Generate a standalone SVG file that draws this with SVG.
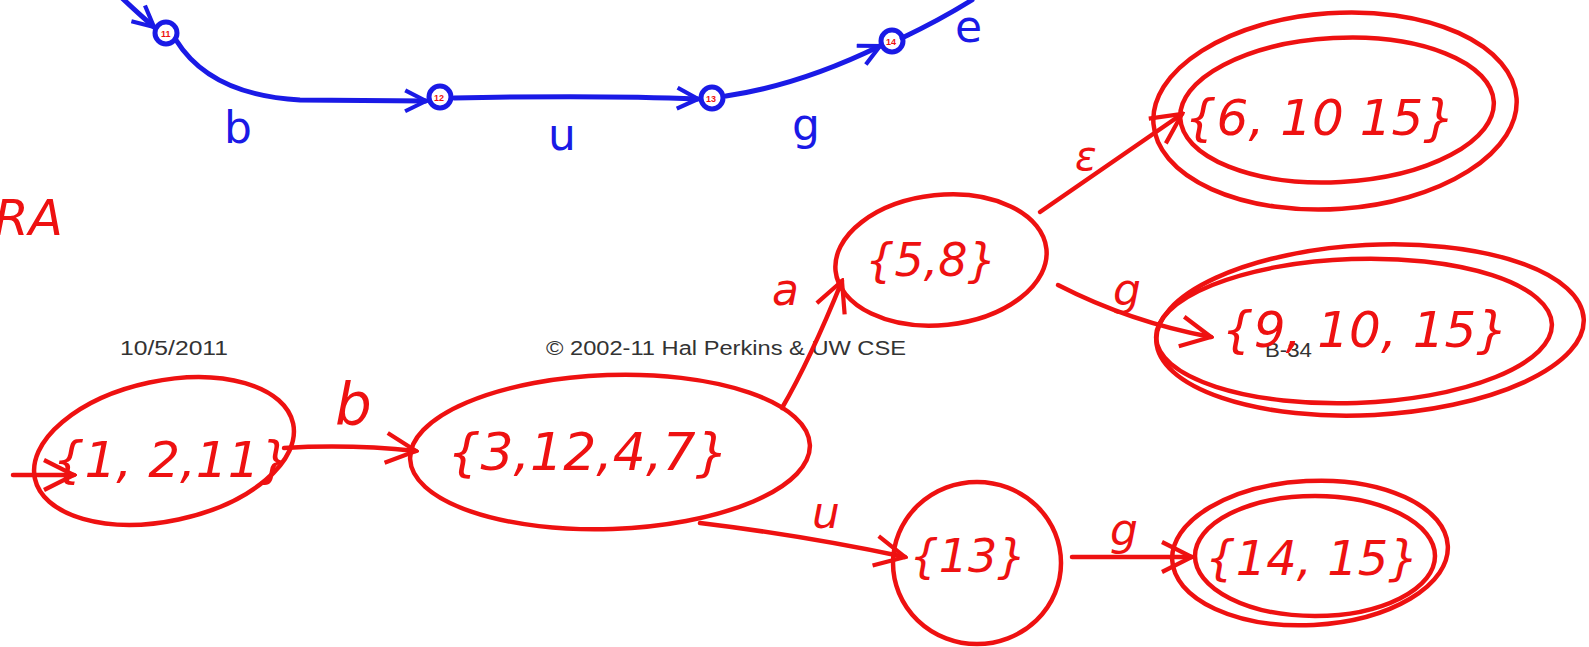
<svg xmlns="http://www.w3.org/2000/svg" width="1589" height="647" viewBox="0 0 1589 647">
<style>
.bl{fill:none;stroke:#1a1ae6;stroke-width:5;stroke-linecap:round;stroke-linejoin:round}
.rd{fill:none;stroke:#ee1111;stroke-width:4.5;stroke-linecap:round;stroke-linejoin:round}
.rt{fill:#ee1111;font-family:"DejaVu Sans",sans-serif;font-style:italic}
.bt{fill:#1a1ae6;font-family:"DejaVu Sans",sans-serif}
.sm{fill:#ee1111;font-family:"Liberation Sans",sans-serif;font-size:9px;font-weight:bold}
.ft{fill:#333;font-family:"Liberation Sans",sans-serif;font-size:20px}
</style>
<defs>
<marker id="ab" viewBox="0 0 12 12" refX="11" refY="6" markerWidth="5" markerHeight="5" orient="auto" markerUnits="strokeWidth">
<path d="M1,1 L11,6 L1,11" fill="none" stroke="#1a1ae6" stroke-width="2"/>
</marker>
<marker id="ar" viewBox="0 0 12 12" refX="11" refY="6" markerWidth="8" markerHeight="8" orient="auto" markerUnits="strokeWidth">
<path d="M1,1 L11,6 L1,11" fill="none" stroke="#ee1111" stroke-width="1.4"/>
</marker>
</defs>
<rect width="1589" height="647" fill="#fff"/>

<g id="footer">
<text class="ft" x="120" y="355" textLength="108" lengthAdjust="spacingAndGlyphs">10/5/2011</text>
<text class="ft" x="546" y="355" textLength="360" lengthAdjust="spacingAndGlyphs">© 2002-11 Hal Perkins &amp; UW CSE</text>
<text class="ft" x="1265" y="357" textLength="47" lengthAdjust="spacingAndGlyphs">B-34</text>
</g>

<g id="connectors">
<path class="bl" d="M122,-2 Q140,15 154,27" marker-end="url(#ab)"/>
<path class="bl" d="M176,40 Q210,95 300,100 L426,101" marker-end="url(#ab)"/>
<path class="bl" d="M454,98 Q600,95 698,99" marker-end="url(#ab)"/>
<path class="bl" d="M726,96 Q800,85 880,46" marker-end="url(#ab)"/>
<path class="bl" d="M902,38 Q940,20 972,0"/>
<path class="rd" d="M13,475 L74,475" marker-end="url(#ar)"/>
<path class="rd" d="M284,448 Q350,444 416,451" marker-end="url(#ar)"/>
<path class="rd" d="M782,408 Q810,360 842,281" marker-end="url(#ar)"/>
<path class="rd" d="M1040,212 L1182,114" marker-end="url(#ar)"/>
<path class="rd" d="M1058,285 Q1130,322 1211,337" marker-end="url(#ar)"/>
<path class="rd" d="M700,523 Q800,535 905,557" marker-end="url(#ar)"/>
<path class="rd" d="M1072,557 L1192,557" marker-end="url(#ar)"/>
</g>

<g id="nfa11"><circle class="bl" cx="166" cy="33" r="11"/><text class="sm" x="161" y="37">11</text></g>
<g id="nfa12"><circle class="bl" cx="440" cy="97" r="11"/><text class="sm" x="434" y="101">12</text></g>
<g id="nfa13"><circle class="bl" cx="712" cy="98" r="11"/><text class="sm" x="706" y="102">13</text></g>
<g id="nfa14"><circle class="bl" cx="892" cy="41" r="11"/><text class="sm" x="886" y="45">14</text></g>

<g id="blue-labels">
<text class="bt" x="224" y="143" font-size="44">b</text>
<text class="bt" x="548" y="150" font-size="44">u</text>
<text class="bt" x="792" y="140" font-size="44">g</text>
<text class="bt" x="955" y="42" font-size="44">e</text>
</g>

<text class="rt" x="-6" y="235" font-size="50">RA</text>

<g id="s1">
<ellipse class="rd" cx="164" cy="451" rx="132" ry="70" transform="rotate(-12 164 451)"/>
<text class="rt" x="172" y="477" font-size="50" text-anchor="middle">{1, 2,11}</text>
</g>
<g id="s2">
<ellipse class="rd" cx="610" cy="452" rx="200" ry="77" transform="rotate(-2 610 452)"/>
<text class="rt" x="588" y="470" font-size="52" text-anchor="middle">{3,12,4,7}</text>
</g>
<g id="s3">
<ellipse class="rd" cx="941" cy="260" rx="106" ry="65" transform="rotate(-6 941 260)"/>
<text class="rt" x="931" y="276" font-size="46" text-anchor="middle">{5,8}</text>
</g>
<g id="s4">
<ellipse class="rd" cx="1335" cy="111" rx="182" ry="98" transform="rotate(-4 1335 111)"/>
<ellipse class="rd" cx="1337" cy="110" rx="157" ry="72" transform="rotate(-3 1337 110)"/>
<text class="rt" x="1320" y="135" font-size="50" text-anchor="middle">{6, 10 15}</text>
</g>
<g id="s5">
<ellipse class="rd" cx="1370" cy="330" rx="214" ry="85" transform="rotate(-3 1370 330)"/>
<ellipse class="rd" cx="1354" cy="331" rx="198" ry="72" transform="rotate(-2 1354 331)"/>
<text class="rt" x="1365" y="347" font-size="50" text-anchor="middle">{9, 10, 15}</text>
</g>
<g id="s6">
<ellipse class="rd" cx="977" cy="563" rx="84" ry="81"/>
<text class="rt" x="968" y="572" font-size="46" text-anchor="middle">{13}</text>
</g>
<g id="s7">
<ellipse class="rd" cx="1310" cy="553" rx="138" ry="72" transform="rotate(-3 1310 553)"/>
<ellipse class="rd" cx="1315" cy="556" rx="120" ry="60"/>
<text class="rt" x="1312" y="575" font-size="48" text-anchor="middle">{14, 15}</text>
</g>

<g id="red-labels">
<text class="rt" x="335" y="425" font-size="58">b</text>
<text class="rt" x="772" y="305" font-size="44">a</text>
<text class="rt" x="1075" y="170" font-size="40">ε</text>
<text class="rt" x="1113" y="305" font-size="44">g</text>
<text class="rt" x="812" y="528" font-size="44">u</text>
<text class="rt" x="1110" y="545" font-size="44">g</text>
</g>
</svg>
